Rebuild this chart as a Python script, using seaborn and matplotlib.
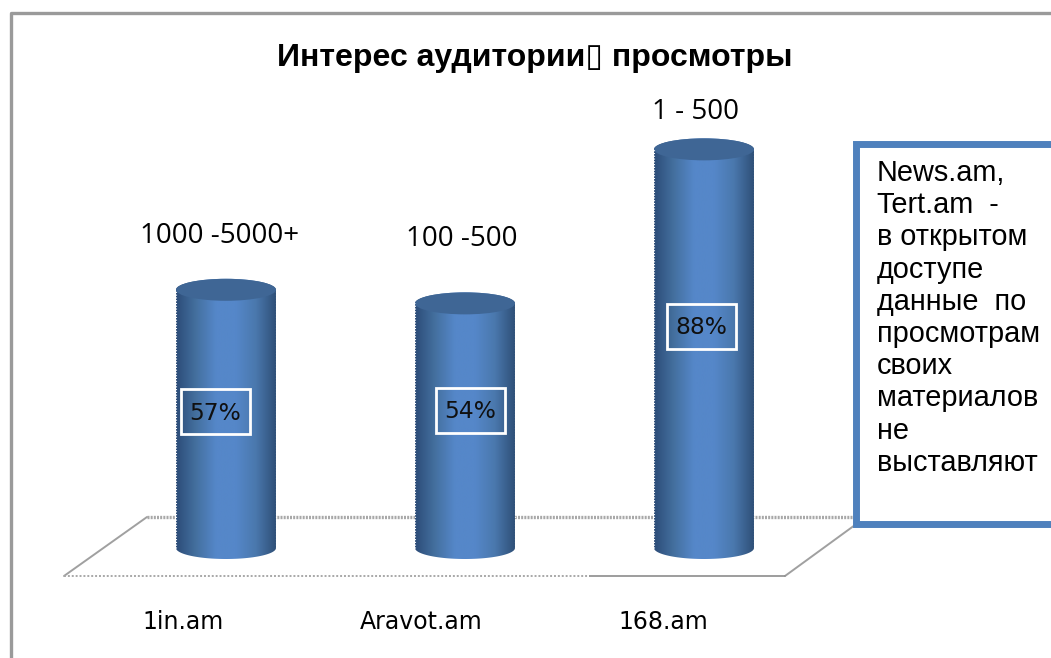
import numpy as np
import matplotlib
matplotlib.use('Agg')
import matplotlib.pyplot as plt
from matplotlib.colors import LinearSegmentedColormap
from matplotlib.patches import Ellipse, Rectangle, PathPatch
from matplotlib.path import Path
from matplotlib.transforms import Affine2D
import seaborn as sns

sites = ['1in.am', 'Aravot.am', '168.am']
shares = [57, 54, 88]
share_labels = ['57%', '54%', '88%']
view_ranges = ['1000 -5000+', '100 -500', '1 - 500']
title = 'Интерес аудитории▯ просмотры'
note_lines = ['News.am,', 'Tert.am  -', 'в открытом', 'доступе', 'данные  по',
              'просмотрам', 'своих', 'материалов', 'не', 'выставляют']

W, H = 1051, 658
GRAY = '#9a9a9a'
BLUE = '#4f81bd'

sns.set_theme(style='white')
plt.rcParams['font.family'] = ['Liberation Sans', 'DejaVu Sans']

fig = plt.figure(figsize=(W / 100, H / 100), dpi=100, facecolor='white')
ax = fig.add_axes([0, 0, 1, 1])

# pixel coordinates of the reference, y pointing down
px = Affine2D().scale(1, -1).translate(0, H)

bar_width = 100 / 239
sns.barplot(x=sites, y=shares, ax=ax, width=bar_width, color=BLUE, zorder=3)
ax.set_xlim(-226 / 239, (W - 226) / 239)
ax.set_ylim(-(H - 548) / 4.53, 548 / 4.53)
ax.axis('off')

# outer frame, runs off the right and bottom of the picture
ax.plot([11, 11, W + 5], [H + 5, 13, 13], color=GRAY, lw=2.4, transform=px, clip_on=False, zorder=1)

# floor of the 3d chart
ax.plot([147, 855], [517, 517], color='#a8a8a8', lw=2.4, ls=(0, (0.6, 0.35)), transform=px, zorder=1)
ax.plot([64, 147], [576, 517], color='#a0a0a0', lw=1.4, transform=px, zorder=1)
ax.plot([785, 855], [576, 525], color='#a0a0a0', lw=1.4, transform=px, zorder=1)
ax.plot([64, 590], [576, 576], color='#a8a8a8', lw=1.4, ls=(0, (1, 1)), transform=px, zorder=1)
ax.plot([590, 785], [576, 576], color='#8c8c8c', lw=1.2, transform=px, zorder=1)

# cylinders: gradient body clipped to the bar outline plus the end ellipses
cyl = LinearSegmentedColormap.from_list('cyl', ['#2c4c78', '#44709f', '#5587c9', '#5587c9', '#4a78ad', '#2f5078'])
grad = np.linspace(0, 1, 256).reshape(1, -1)
cap = 11 / 4.53
t = np.linspace(0, np.pi, 60)
for bar in list(ax.patches):
    x0 = bar.get_x()
    w = bar.get_width()
    top = bar.get_height()
    xc = x0 + w / 2
    bar.set_visible(False)
    lower = np.column_stack([xc - w / 2 * np.cos(t), -cap * np.sin(t)])
    upper = np.column_stack([xc + w / 2 * np.cos(t), top + cap * np.sin(t)])
    outline = Path(np.vstack([lower, upper, lower[:1]]), closed=True)
    clip = PathPatch(outline, transform=ax.transData, fc='none', ec='none')
    ax.add_patch(clip)
    im = ax.imshow(grad, cmap=cyl, extent=(x0, x0 + w, -cap, top + cap), aspect='auto', zorder=3)
    im.set_clip_path(clip)
    ax.add_patch(Ellipse((xc, top), w, 2 * cap, fc='#3f6695', ec='none', zorder=4))
    ax.plot([x0, x0], [0, top], color='white', lw=0.8, ls=(0, (1, 1.5)), zorder=5)
    ax.plot([x0 + w, x0 + w], [0, top], color='white', lw=0.8, ls=(0, (1, 1.5)), zorder=5)
ax.set_xlim(-226 / 239, (W - 226) / 239)
ax.set_ylim(-(H - 548) / 4.53, 548 / 4.53)

# text and boxes placed as in the reference
label_font = 'Open Sans'
ax.text(535, 58, title, transform=px, ha='center', va='center', fontsize=23, fontweight='bold', color='black')

range_x = [220, 462, 695]
range_y = [236, 239, 112]
for txt, x, y in zip(view_ranges, range_x, range_y):
    ax.text(x, y, txt, transform=px, ha='center', va='center', fontsize=20, family=label_font, color='black', zorder=6)

tick_x = [183, 421, 663]
for txt, x in zip(sites, tick_x):
    ax.text(x, 622, txt, transform=px, ha='center', va='center', fontsize=17, family='DejaVu Sans', color='black', zorder=6)

box_x = [181, 436, 667]
box_y = [389, 388, 304]
for txt, x, y in zip(share_labels, box_x, box_y):
    ax.add_patch(Rectangle((x, y), 69, 45, fc='none', ec='white', lw=2, transform=px, zorder=6))
    ax.text(x + 34.5, y + 24, txt, transform=px, ha='center', va='center', fontsize=16.8, family='DejaVu Sans', color='#101010', zorder=7)

ax.add_patch(Rectangle((856, 144), 220, 380, fc='white', ec=BLUE, lw=5, transform=px, zorder=6, clip_on=True))
for i, line in enumerate(note_lines):
    ax.text(877, 173 + i * 32.2, line, transform=px, ha='left', va='center', fontsize=20.8, color='black', zorder=7)

fig.savefig('out.png', dpi=100)
